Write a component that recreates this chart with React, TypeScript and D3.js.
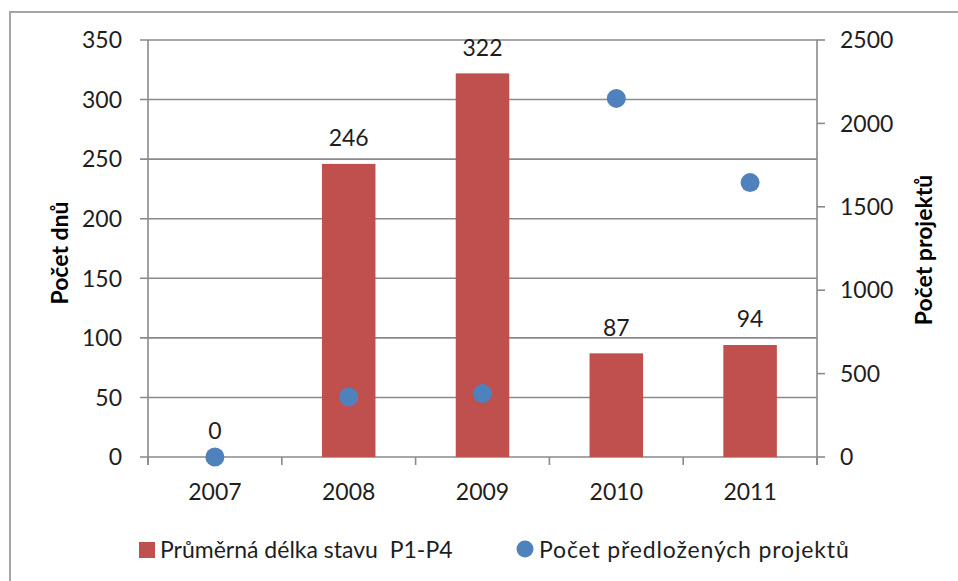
import React from 'react';
import * as d3 from 'd3';

const years = ['2007', '2008', '2009', '2010', '2011'];
const avgDays = [0, 246, 322, 87, 94];
const projects = [0, 360, 380, 2150, 1645];
const leftTicks = [0, 50, 100, 150, 200, 250, 300, 350];
const rightTicks = [0, 500, 1000, 1500, 2000, 2500];
const seriesNames = ['Průměrná délka stavu\u00a0\u00a0P1-P4', 'Počet předložených projektů'];
const axisTitles = ['Počet dnů', 'Počet projektů'];

const W = 958, H = 581;
const plot = { left: 148, right: 817, top: 40, bottom: 457 };
const RED = '#C0504D';
const BLUE = '#4F81BD';
const GRID = '#8a8a8a';
const TEXT = '#1e1e1e';
const FONT = 'Lato, "Open Sans", sans-serif';
const FS = 23;

export default function App() {
  const x = d3.scaleBand<string>().domain(years).range([plot.left, plot.right]).paddingInner(0).paddingOuter(0);
  const yL = d3.scaleLinear().domain([0, 350]).range([plot.bottom, plot.top]);
  const yR = d3.scaleLinear().domain([0, 2500]).range([plot.bottom, plot.top]);
  const bw = x.bandwidth() * 0.4;
  const boundaries = years.map((y) => x(y)!).concat([plot.right]);

  return (
    <svg width={W} height={H} style={{ position: 'absolute', left: 0, top: 0, background: '#fff' }} fontFamily={FONT}>
      <rect x={10} y={12} width={980} height={600} fill="#fff" stroke="#a6a6a6" strokeWidth={2} />
      {/* gridlines */}
      {leftTicks.map((t) => (
        <line key={'g' + t} x1={plot.left - 8} x2={plot.right} y1={yL(t)} y2={yL(t)} stroke={GRID} strokeWidth={1.6} />
      ))}
      {/* left axis */}
      <line x1={plot.left} x2={plot.left} y1={plot.top} y2={plot.bottom + 8} stroke={GRID} strokeWidth={1.6} />
      {leftTicks.map((t) => (
        <text key={'lt' + t} x={122} y={yL(t)} dy="0.36em" textAnchor="end" fontSize={FS} fill={TEXT}>{t}</text>
      ))}
      {/* right axis */}
      <line x1={plot.right} x2={plot.right} y1={plot.top} y2={plot.bottom + 8} stroke={GRID} strokeWidth={1.6} />
      {rightTicks.map((t) => (
        <g key={'rt' + t}>
          <line x1={plot.right} x2={plot.right + 8} y1={yR(t)} y2={yR(t)} stroke={GRID} strokeWidth={1.6} />
          <text x={840} y={yR(t)} dy="0.36em" textAnchor="start" fontSize={FS} fill={TEXT}>{t}</text>
        </g>
      ))}
      {/* x ticks */}
      {boundaries.map((b, i) => (
        <line key={'xt' + i} x1={b} x2={b} y1={plot.bottom} y2={plot.bottom + 8} stroke={GRID} strokeWidth={1.6} />
      ))}
      {years.map((y) => (
        <text key={'xl' + y} x={x(y)! + x.bandwidth() / 2} y={492} dy="0.36em" textAnchor="middle" fontSize={FS} fill={TEXT}>{y}</text>
      ))}
      {/* bars */}
      {years.map((y, i) => (
        <g key={'b' + y}>
          <rect x={x(y)! + x.bandwidth() / 2 - bw / 2} y={yL(avgDays[i])} width={bw} height={plot.bottom - yL(avgDays[i])} fill={RED} />
          <text x={x(y)! + x.bandwidth() / 2} y={yL(avgDays[i]) - 26} dy="0.36em" textAnchor="middle" fontSize={FS} fill={TEXT}>{avgDays[i]}</text>
        </g>
      ))}
      {/* dots */}
      {years.map((y, i) => (
        <circle key={'d' + y} cx={x(y)! + x.bandwidth() / 2} cy={yR(projects[i])} r={9.5} fill={BLUE} />
      ))}
      {/* axis titles */}
      <text transform={`translate(60,253) rotate(-90)`} textAnchor="middle" dy="0.36em" fontSize={FS} fontWeight="bold" fill="#000">{axisTitles[0]}</text>
      <text transform={`translate(924,250) rotate(-90)`} textAnchor="middle" dy="0.36em" fontSize={FS} fontWeight="bold" fill="#000">{axisTitles[1]}</text>
      {/* legend */}
      <rect x={139} y={542} width={16} height={16} fill={RED} />
      <text x={160} y={550} dy="0.36em" fontSize={FS} fill={TEXT}>{seriesNames[0]}</text>
      <circle cx={525} cy={549} r={8.5} fill={BLUE} />
      <text x={539} y={550} dy="0.36em" fontSize={FS} letterSpacing={0.85} fill={TEXT}>{seriesNames[1]}</text>
    </svg>
  );
}
